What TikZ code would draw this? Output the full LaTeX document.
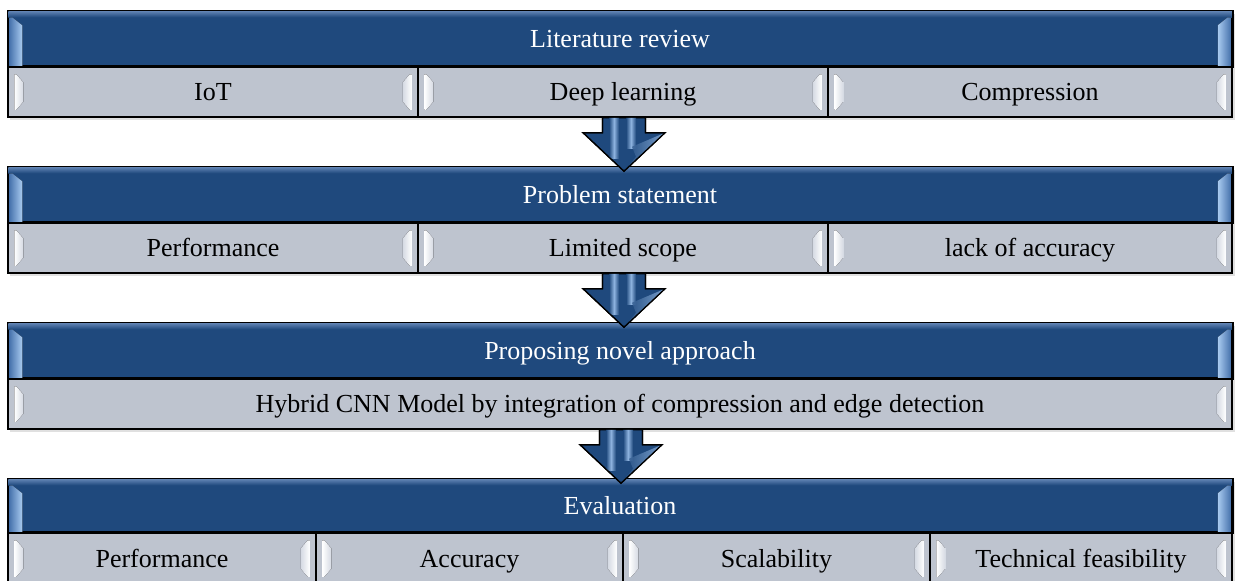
\documentclass[tikz,border=0pt]{standalone}
\usepackage{fontspec}
\setmainfont{Liberation Serif}
\usetikzlibrary{calc}

\definecolor{hdrblue}{HTML}{1F497D}
\definecolor{hdrtop}{HTML}{5F82B2}
\definecolor{stripmid}{HTML}{4672AC}
\definecolor{striplight}{HTML}{A9CBF0}
\definecolor{cellgray}{HTML}{BEC4CF}
\definecolor{tabinner}{HTML}{D5DAE3}
\definecolor{arrowlight}{HTML}{8FB4E0}

\tikzset{
  frame/.style={draw=black, line width=1.5pt},
  label font/.style={font=\fontsize{26}{30}\selectfont, text height=18pt, text depth=0pt},
  hdr/.style={frame, fill=hdrblue, inner sep=0pt},
  cellbox/.style={frame, fill=cellgray, inner sep=0pt},
  celltext/.style={label font, inner sep=0pt},
  boxshadow/.style={fill=black, opacity=0.12},
  tabL/.style={left color=white, right color=tabinner},
  tabR/.style={left color=tabinner, right color=white},
  stripL/.style={left color=stripmid, right color=striplight},
  stripR/.style={left color=striplight, right color=stripmid},
  blockarrow/.style={fill=hdrblue, draw=black, line width=1.2pt, line join=miter},
}

% glossy end tabs of a grey cell
\newcommand{\celltabs}[1]{%
  \fill[tabL] ($(#1.north west)+(7,9)$) -- ($(#1.north west)+(9,9)$)
    -- ($(#1.north west)+(16,17)$) -- ($(#1.south west)+(16,-16)$)
    -- ($(#1.south west)+(9,-8)$) -- ($(#1.south west)+(7,-8)$) -- cycle;
  \fill[tabR] ($(#1.north east)+(-7,9)$) -- ($(#1.north east)+(-9,9)$)
    -- ($(#1.north east)+(-16,17)$) -- ($(#1.south east)+(-16,-16)$)
    -- ($(#1.south east)+(-9,-8)$) -- ($(#1.south east)+(-7,-8)$) -- cycle;
}

% glossy top band and side strips of a blue header
\newcommand{\hdrgloss}[1]{%
  \shade[top color=hdrtop, bottom color=hdrblue]
    ($(#1.north west)+(1,1)$) rectangle ($(#1.north east)+(-1,7)$);
  \fill[stripL] ($(#1.north west)+(2,7)$) -- ($(#1.north west)+(5,7)$)
    -- ($(#1.north west)+(15,15)$) -- ($(#1.south west)+(15,-1)$)
    -- ($(#1.south west)+(2,-1)$) -- cycle;
  \fill[stripR] ($(#1.north east)+(-2,7)$) -- ($(#1.north east)+(-5,7)$)
    -- ($(#1.north east)+(-15,15)$) -- ($(#1.south east)+(-15,-1)$)
    -- ($(#1.south east)+(-2,-1)$) -- cycle;
  \draw[frame] (#1.north west) rectangle (#1.south east);
}

% block arrow from the bottom of one block to the next header
\newcommand{\flowarrow}[2]{%
  \path let \p1=(#1.south), \p2=(#2.north) in
    coordinate (s) at (\x1+1pt,\y1)
    coordinate (t) at (\x1+1pt,\y2-5pt)
    coordinate (h) at (\x1+1pt,\y1-15pt);
  \begin{scope}
    \path[blockarrow] ($(s)+(-21.5,0)$) -- ($(s)+(21.5,0)$) -- ($(h)+(21.5,0)$)
      -- ($(h)+(41,0)$) -- (t) -- ($(h)+(-41,0)$) -- ($(h)+(-21.5,0)$) -- cycle;
    \clip ($(s)+(-21.5,0)$) -- ($(s)+(21.5,0)$) -- ($(h)+(21.5,0)$)
      -- ($(h)+(41,0)$) -- (t) -- ($(h)+(-41,0)$) -- ($(h)+(-21.5,0)$) -- cycle;
    \shade[left color=hdrblue, right color=hdrblue, middle color=arrowlight]
      ($(s)+(-15,0)$) rectangle ($(h)+(-5,26)$);
    \shade[left color=hdrblue, right color=hdrblue, middle color=arrowlight]
      ($(s)+(2,0)$) rectangle ($(h)+(12,16)$);
    \shade[left color=hdrblue, right color=arrowlight, opacity=0.8]
      ($(h)+(8,14)$) -- ($(h)+(41,0)$) -- (t) -- ($(h)+(12,24)$) -- cycle;
  \end{scope}
  \draw[blockarrow, fill=none] ($(s)+(-21.5,0)$) -- ($(h)+(-21.5,0)$)
    -- ($(h)+(-41,0)$) -- (t) -- ($(h)+(41,0)$) -- ($(h)+(21.5,0)$) -- ($(s)+(21.5,0)$);
}

\begin{document}
\begin{tikzpicture}[x=1pt, y=-1pt]
  \useasboundingbox (0,0) rectangle (1240,581);

  % soft shadows under the four blocks
  \fill[boxshadow] (10,14) rectangle (1235,120);
  \fill[boxshadow] (10,170) rectangle (1235,276);
  \fill[boxshadow] (10,326) rectangle (1235,432);
  \fill[boxshadow] (10,482) rectangle (1235,590);

  % block 1
  \node[hdr, minimum width=1224pt, minimum height=55pt] (h1) at (620,38.5) {};
  \node[cellbox, minimum width=410pt, minimum height=51pt] (a1) at (213,91.5) {};
  \node[cellbox, minimum width=410pt, minimum height=51pt] (a2) at (623,91.5) {};
  \node[cellbox, minimum width=404pt, minimum height=51pt] (a3) at (1030,91.5) {};

  % block 2
  \node[hdr, minimum width=1224pt, minimum height=55pt] (h2) at (620,194.5) {};
  \node[cellbox, minimum width=410pt, minimum height=51pt] (b1) at (213,247.5) {};
  \node[cellbox, minimum width=410pt, minimum height=51pt] (b2) at (623,247.5) {};
  \node[cellbox, minimum width=404pt, minimum height=51pt] (b3) at (1030,247.5) {};

  % block 3
  \node[hdr, minimum width=1224pt, minimum height=55pt] (h3) at (620,350.5) {};
  \node[cellbox, minimum width=1224pt, minimum height=51pt] (c1) at (620,403.5) {};

  % block 4
  \node[hdr, minimum width=1224pt, minimum height=53pt] (h4) at (620,505.5) {};
  \node[cellbox, minimum width=308pt, minimum height=52pt] (d1) at (162,558) {};
  \node[cellbox, minimum width=307pt, minimum height=52pt] (d2) at (469.5,558) {};
  \node[cellbox, minimum width=307pt, minimum height=52pt] (d3) at (776.5,558) {};
  \node[cellbox, minimum width=302pt, minimum height=52pt] (d4) at (1081,558) {};

  % gloss on headers and cells
  \foreach \h in {h1,h2,h3,h4} {\hdrgloss{\h}}
  \foreach \c in {a1,a2,a3,b1,b2,b3,c1,d1,d2,d3,d4} {\celltabs{\c}}

  % header titles and cell labels, set above the gloss
  \foreach \h/\t in {h1/Literature review, h2/Problem statement,
                     h3/Proposing novel approach, h4/Evaluation}
    {\node[celltext, text=white] (\h-label) at (\h) {\t};}
  \foreach \c/\t in {a1/IoT, a2/Deep learning, a3/Compression,
                     b1/Performance, b2/Limited scope, b3/lack of accuracy,
                     d1/Performance, d2/Accuracy, d3/Scalability, d4/Technical feasibility}
    {\node[celltext] (\c-label) at (\c) {\t};}
  \node[celltext] (c1-label) at (c1)
    {Hybrid CNN Model by integration of compression and edge detection};

  % flow arrows between blocks
  \flowarrow{a2}{h2}
  \flowarrow{b2}{h3}
  \flowarrow{c1}{h4}
\end{tikzpicture}
\end{document}
